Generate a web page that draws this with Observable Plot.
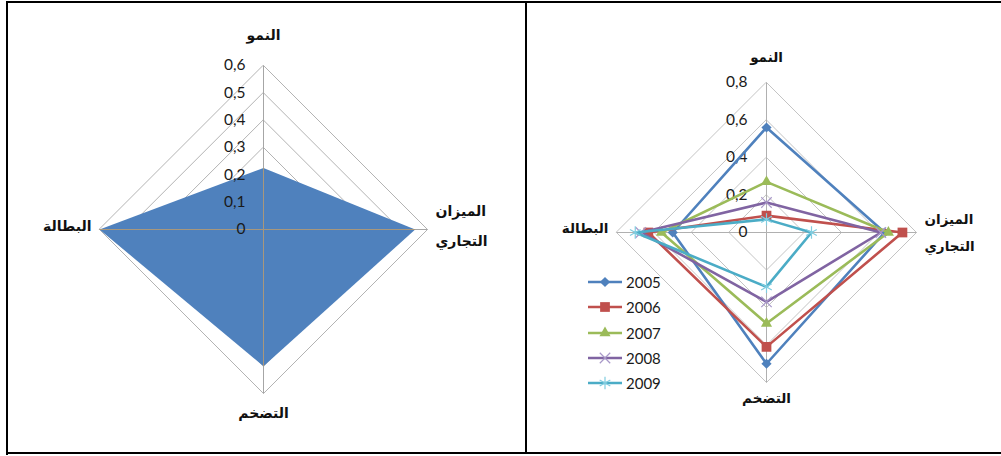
<!DOCTYPE html>
<html><head><meta charset="utf-8">
<script src="https://cdn.jsdelivr.net/npm/d3@7"></script>
<script src="https://cdn.jsdelivr.net/npm/@observablehq/plot@0.6"></script>
<style>
body{margin:0;background:#fff;}
#wrap{position:relative;width:1001px;height:456px;overflow:hidden;background:#fff;}
.panel{position:absolute;top:0;}
.frame{position:absolute;background:#000;z-index:5;}
.legend{position:absolute;font-family:Lato,sans-serif;font-size:15px;color:#1a1a1a;z-index:4;}
.legend .row{position:absolute;left:0;height:20px;display:flex;align-items:center;white-space:nowrap;}
.legend svg{display:block;}
</style></head><body>
<div id="wrap"></div>
<script>
// ---- data ----
const categories = ["النمو", "الميزان\nالتجاري", "التضخم", "البطالة"]; // clockwise from top
const angles = [0, 90, 180, 270];
const leftValues = [0.225, 0.555, 0.5, 0.6];
const leftTicks = [0, 0.1, 0.2, 0.3, 0.4, 0.5, 0.6];
const years = ["2005", "2006", "2007", "2008", "2009"];
const v2005 = [0.56, 0.63, 0.70, 0.50];
const v2006 = [0.09, 0.725, 0.61, 0.63];
const v2007 = [0.27, 0.65, 0.485, 0.56];
const v2008 = [0.16, 0.61, 0.37, 0.67];
const v2009 = [0.07, 0.24, 0.29, 0.70];
const rightTicks = [0, 0.2, 0.4, 0.6, 0.8];

// ---- styles ----
const seriesValues = [v2005, v2006, v2007, v2008, v2009];
const colors = ["#4f81bd", "#c0504d", "#9bbb59", "#8064a2", "#4bacc6"];
const markerStroke = ["#4f81bd", "#c0504d", "#9bbb59", "#a898c8", "#80cde0"];
const symbols = ["diamond2", "square2", "triangle2", "times", "asterisk"];
const d3symbols = [d3.symbolDiamond2, d3.symbolSquare2, d3.symbolTriangle2, d3.symbolTimes, d3.symbolAsterisk];
const symR = [4.6, 6.2, 5.3, 4.8, 5.8];
const filled = [true, true, true, false, false];

const rad = a => a * Math.PI / 180;
const pt = (v, i, extra = {}) => ({x: v * Math.sin(rad(angles[i])), y: v * Math.cos(rad(angles[i])), v, i, ...extra});
const fmt = t => t === 0 ? "0" : String(t).replace(".", ",");
const arabic = "'DejaVu Sans', sans-serif";

const wrap = document.getElementById("wrap");

function ringPoints(ticks) {
  return ticks.filter(t => t > 0).flatMap(t => angles.map((a, i) => pt(t, i, {ring: t})));
}

function labelMarks(max, o) {
  const data = categories.map((c, i) => pt(max, i, {c}));
  const sel = k => data.filter((d, i) => i === k);
  const common = {x: "x", y: "y", text: "c", fontFamily: arabic, fontWeight: "bold", fontSize: o.fs, fill: "#111"};
  return [
    Plot.text(sel(0), {...common, dy: o.top}),
    Plot.text(sel(1), {...common, textAnchor: "start", dx: o.side, dy: o.rdy, lineHeight: o.lh}),
    Plot.text(sel(2), {...common, dy: o.bottom}),
    Plot.text(sel(3), {...common, textAnchor: "end", dx: -o.side, dy: o.ldy})
  ];
}

// ---- left panel ----
{
  const max = 0.6, cx = 263, cy = 229, R = 164;
  const spokes = angles.map((a, i) => pt(max, i));
  const area = leftValues.map((v, i) => pt(v, i));
  const p = Plot.plot({
    width: 526, height: 456, margin: 0,
    style: {background: "transparent", overflow: "visible", fontFamily: "Lato, sans-serif"},
    x: {domain: [-max, max], range: [cx - R, cx + R], axis: null},
    y: {domain: [-max, max], range: [cy + R, cy - R], axis: null},
    marks: [
      Plot.line(ringPoints(leftTicks), {x: "x", y: "y", z: "ring", curve: "linear-closed", stroke: "#b3b3b3", strokeWidth: 1}),
      Plot.link(spokes, {x1: d => 0, y1: d => 0, x2: "x", y2: "y", stroke: "#a6a6a6", strokeWidth: 1}),
      Plot.line(area, {x: "x", y: "y", curve: "linear-closed", fill: "#4f81bd", stroke: "none"}),
      Plot.link(area, {x1: d => 0, y1: d => 0, x2: "x", y2: "y", stroke: "#a8977c", strokeWidth: 1}),
      Plot.text(leftTicks, {x: d => 0, y: d => d, text: fmt, textAnchor: "end", dx: -18, fontSize: 15.5, fill: "#1a1a1a"}),
      ...labelMarks(max, {fs: 14, top: -30, bottom: 20, side: 8, rdy: -8, ldy: -3, lh: 2.15})
    ]
  });
  p.classList.add("panel");
  p.style.left = "0px";
  wrap.appendChild(p);
}

// ---- right panel ----
{
  const max = 0.8, cx = 239, cy = 232, R = 150;
  const spokes = angles.map((a, i) => pt(max, i));
  const marks = [
    Plot.line(ringPoints(rightTicks), {x: "x", y: "y", z: "ring", curve: "linear-closed", stroke: "#c4c4c4", strokeWidth: 1}),
    Plot.link(spokes, {x1: d => 0, y1: d => 0, x2: "x", y2: "y", stroke: "#b0b0b0", strokeWidth: 1}),
    Plot.text(rightTicks, {x: d => 0, y: d => d, text: fmt, textAnchor: "end", dx: -19, fontSize: 15.5, fill: "#1a1a1a"})
  ];
  seriesValues.forEach((vals, k) => {
    const pts = vals.map((v, i) => pt(v, i, {year: years[k]}));
    marks.push(Plot.line(pts, {x: "x", y: "y", curve: "linear-closed", stroke: colors[k], strokeWidth: 2.6, strokeLinejoin: "round"}));
    marks.push(Plot.dot(pts, {x: "x", y: "y", symbol: symbols[k], r: symR[k],
      fill: filled[k] ? colors[k] : "none", stroke: filled[k] ? "none" : markerStroke[k], strokeWidth: 1.2}));
  });
  marks.push(...labelMarks(max, {fs: 13.5, top: -25, bottom: 16, side: 8, rdy: -4, ldy: -4, lh: 2.0}));
  const p = Plot.plot({
    width: 474, height: 456, margin: 0,
    style: {background: "transparent", overflow: "visible", fontFamily: "Lato, sans-serif"},
    x: {domain: [-max, max], range: [cx - R, cx + R], axis: null},
    y: {domain: [-max, max], range: [cy + R, cy - R], axis: null},
    marks
  });
  p.classList.add("panel");
  p.style.left = "527px";
  wrap.appendChild(p);

  // legend
  const lg = document.createElement("div");
  lg.className = "legend";
  lg.style.left = "588px";
  lg.style.top = "272px";
  years.forEach((y, k) => {
    const row = document.createElement("div");
    row.className = "row";
    row.style.top = (k * 25.3) + "px";
    const size = Math.PI * symR[k] * symR[k];
    const path = d3.symbol(d3symbols[k], size)();
    row.innerHTML = `<svg width="38" height="20"><line x1="0" x2="34" y1="10" y2="10" stroke="${colors[k]}" stroke-width="2.6"/>` +
      `<path transform="translate(17,10)" d="${path}" fill="${filled[k] ? colors[k] : "none"}" stroke="${filled[k] ? "none" : markerStroke[k]}" stroke-width="1.2"/></svg><span>${y}</span>`;
    lg.appendChild(row);
  });
  wrap.appendChild(lg);
}

// ---- frame lines ----
[[6, 1, 2, 454], [6, 1, 995, 2], [6, 452, 995, 2], [525, 1, 2, 453]].forEach(([l, t, w, h]) => {
  const d = document.createElement("div");
  d.className = "frame";
  Object.assign(d.style, {left: l + "px", top: t + "px", width: w + "px", height: h + "px"});
  wrap.appendChild(d);
});
</script>
</body></html>
